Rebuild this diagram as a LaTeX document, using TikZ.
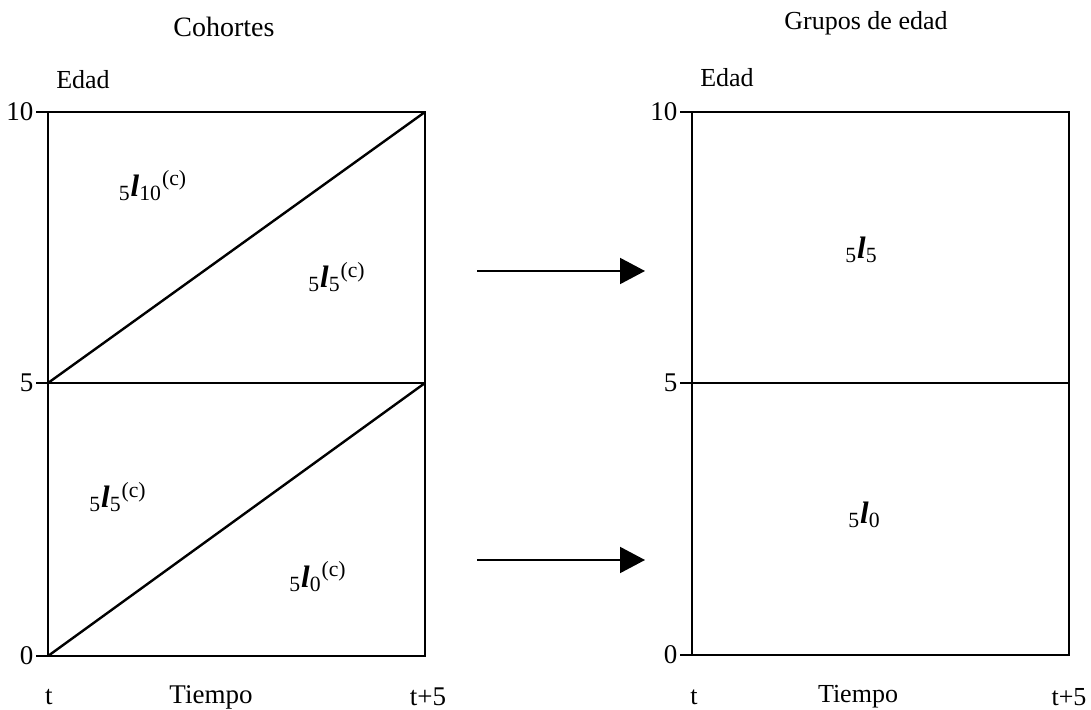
\documentclass[tikz,border=0pt]{standalone}
\usepackage{fontspec}
\setmainfont{Liberation Serif}
\usetikzlibrary{arrows.meta,positioning}
\tikzset{
  marco/.style={line width=1.2pt, draw=black},
  marca/.style={line width=0.6pt, draw=black},
  flecha/.style={
    -{Triangle[length=12.5pt,width=13pt]},
    line width=1pt
  },
  rotulo/.style={font=\fontsize{13}{15}\selectfont, inner sep=0pt},
  titulo/.style={font=\fontsize{14}{16}\selectfont, inner sep=0pt},
  tasa/.style={font=\fontsize{15.5}{18}\selectfont, inner sep=0pt}
}
\newcommand{\vidal}[3]{\textsubscript{#1}\textbf{\textit{l}}\textsubscript{#2}\textsuperscript{#3}}

\begin{document}
\begin{tikzpicture}[x=0.5pt,y=-0.5pt]
\useasboundingbox (0,0) rectangle (1091,710);

% Cohortes
\coordinate (c00) at (48,656);
\coordinate (c05) at (48,383);
\coordinate (c10) at (48,112);
\coordinate (c50) at (425,656);
\coordinate (c55) at (425,383);
\coordinate (c510) at (425,112);
\draw[marco] (c00) rectangle (c510);
\draw[marco] (c05) -- (c55);
\draw[marco] (c05) -- (c510);
\draw[marco] (c00) -- (c55);
\draw[marca] (c10) -- ++(-12,0) node[rotulo, font=\fontsize{13.5}{15}\selectfont, anchor=east, inner sep=1pt] {10};
\draw[marca] (c05) -- ++(-12,0) node[rotulo, font=\fontsize{13.5}{15}\selectfont, anchor=east, inner sep=1pt] {5};
\draw[marca] (c00) -- ++(-12,0) node[rotulo, font=\fontsize{13.5}{15}\selectfont, anchor=east, inner sep=1pt] {0};
\node[titulo] (cohT) at (224,27) {Cohortes};
\node[rotulo] (cohE) at (83,80) {Edad};
\node[rotulo, font=\fontsize{13.5}{16}\selectfont] (coht) at (49,697) {t};
\node[titulo, font=\fontsize{13.5}{16}\selectfont] (cohX) at (211,697) {Tiempo};
\node[rotulo, font=\fontsize{13.5}{16}\selectfont] (coht5) at (428,697) {t+5};
\node[tasa] (l10c) at (153,186) {\vidal{5}{10}{(c)}};
\node[tasa] (l5ca) at (337,277) {\vidal{5}{5}{(c)}};
\node[tasa] (l5cb) at (118,497) {\vidal{5}{5}{(c)}};
\node[tasa] (l0c) at (318,577) {\vidal{5}{0}{(c)}};

% flechas
\coordinate (f1a) at (477,271);
\coordinate (f1b) at (645,271);
\coordinate (f2a) at (477,560);
\coordinate (f2b) at (645,560);
\draw[flecha] (f1a) -- (f1b);
\draw[flecha] (f2a) -- (f2b);

% Grupos de edad
\coordinate (g00) at (692,655);
\coordinate (g05) at (692,383);
\coordinate (g10) at (692,112);
\coordinate (g55) at (1069,383);
\coordinate (g510) at (1069,112);
\draw[marco] (g00) rectangle (g510);
\draw[marco, line width=1.4pt] (g05) -- (g55);
\draw[marca] (g10) -- ++(-12,0) node[rotulo, font=\fontsize{13.5}{15}\selectfont, anchor=east, inner sep=1pt] {10};
\draw[marca] (g05) -- ++(-12,0) node[rotulo, font=\fontsize{13.5}{15}\selectfont, anchor=east, inner sep=1pt] {5};
\draw[marca] (g00) -- ++(-12,0) node[rotulo, font=\fontsize{13.5}{15}\selectfont, anchor=east, inner sep=1pt] {0};
\node[rotulo] (grT) at (866,23) {Grupos de edad};
\node[rotulo] (grE) at (727,78) {Edad};
\node[rotulo] (grt) at (694,697) {t};
\node[rotulo] (grX) at (858,697) {Tiempo};
\node[rotulo] (grt5) at (1069,697) {t+5};
\node[tasa] (l5) at (862,250) {\vidal{5}{5}{}};
\node[tasa] (l0) at (865,515) {\vidal{5}{0}{}};
\end{tikzpicture}
\end{document}
